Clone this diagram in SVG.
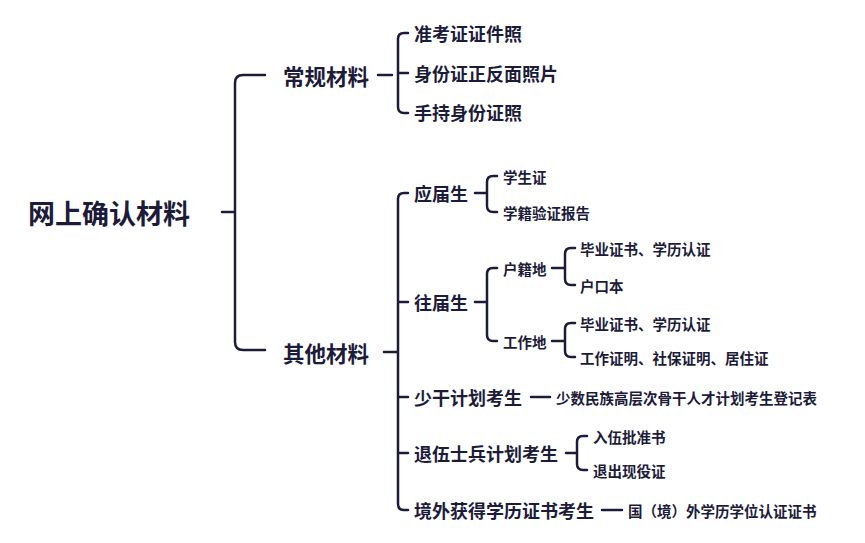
<svg xmlns="http://www.w3.org/2000/svg" width="865" height="543" viewBox="0 0 865 543">
<style>
text{font-family:"Noto Sans CJK SC",sans-serif;font-weight:bold;fill:#1c1c3a;dominant-baseline:central}
.l{fill:none;stroke:#1c1c3a;stroke-width:2.5;stroke-linecap:round}
.r{font-size:27px}.a{font-size:21.5px}.b{font-size:18px}.c{font-size:14.5px}
</style>
<rect width="865" height="543" fill="#fff"/>
<g id="connectors" class="l">
<path d="M222 212H235M265 75H243Q235 75 235 83V342Q235 350 243 350H265"/>
<path d="M378 75H392M408 33H404Q398 33 398 39V107Q398 113 404 113H408M398 73H408"/>
<path d="M384 352H398M408 193H404Q398 193 398 199V504Q398 510 404 510H408M398 302H408M398 397H408M398 453H408"/>
<path d="M475 193H487M497 176H493Q487 176 487 182V206Q487 212 493 212H497"/>
<path d="M475 302H487M497 268H493Q487 268 487 274V335Q487 341 493 341H497"/>
<path d="M552 268H565M575 248H571Q565 248 565 254V279Q565 285 571 285H575"/>
<path d="M552 341H565M575 323H571Q565 323 565 329V351Q565 357 571 357H575"/>
<path d="M531 397H550"/>
<path d="M566 453H577M587 436H583Q577 436 577 442V464Q577 470 583 470H587"/>
<path d="M602 510H622"/>
</g>
<g id="root"><text class="r" x="28" y="212">网上确认材料</text></g>
<g id="n1"><text class="a" x="283" y="75">常规材料</text></g>
<g id="n1a"><text class="b" x="414" y="33">准考证证件照</text></g>
<g id="n1b"><text class="b" x="414" y="73">身份证正反面照片</text></g>
<g id="n1c"><text class="b" x="414" y="112">手持身份证照</text></g>
<g id="n2"><text class="a" x="283" y="352">其他材料</text></g>
<g id="n2a"><text class="b" x="414" y="193">应届生</text></g>
<g id="n2a1"><text class="c" x="503" y="176">学生证</text></g>
<g id="n2a2"><text class="c" x="503" y="212">学籍验证报告</text></g>
<g id="n2b"><text class="b" x="414" y="302">往届生</text></g>
<g id="n2b1"><text class="c" x="503" y="268">户籍地</text></g>
<g id="n2b1a"><text class="c" x="580" y="248">毕业证书、学历认证</text></g>
<g id="n2b1b"><text class="c" x="580" y="285">户口本</text></g>
<g id="n2b2"><text class="c" x="503" y="341">工作地</text></g>
<g id="n2b2a"><text class="c" x="580" y="323">毕业证书、学历认证</text></g>
<g id="n2b2b"><text class="c" x="580" y="357">工作证明、社保证明、居住证</text></g>
<g id="n2c"><text class="b" x="414" y="397">少干计划考生</text></g>
<g id="n2c1"><text class="c" x="556" y="397">少数民族高层次骨干人才计划考生登记表</text></g>
<g id="n2d"><text class="b" x="414" y="453">退伍士兵计划考生</text></g>
<g id="n2d1"><text class="c" x="593" y="436">入伍批准书</text></g>
<g id="n2d2"><text class="c" x="593" y="470">退出现役证</text></g>
<g id="n2e"><text class="b" x="414" y="510">境外获得学历证书考生</text></g>
<g id="n2e1"><text class="c" x="628" y="510">国（境）外学历学位认证证书</text></g>
</svg>
